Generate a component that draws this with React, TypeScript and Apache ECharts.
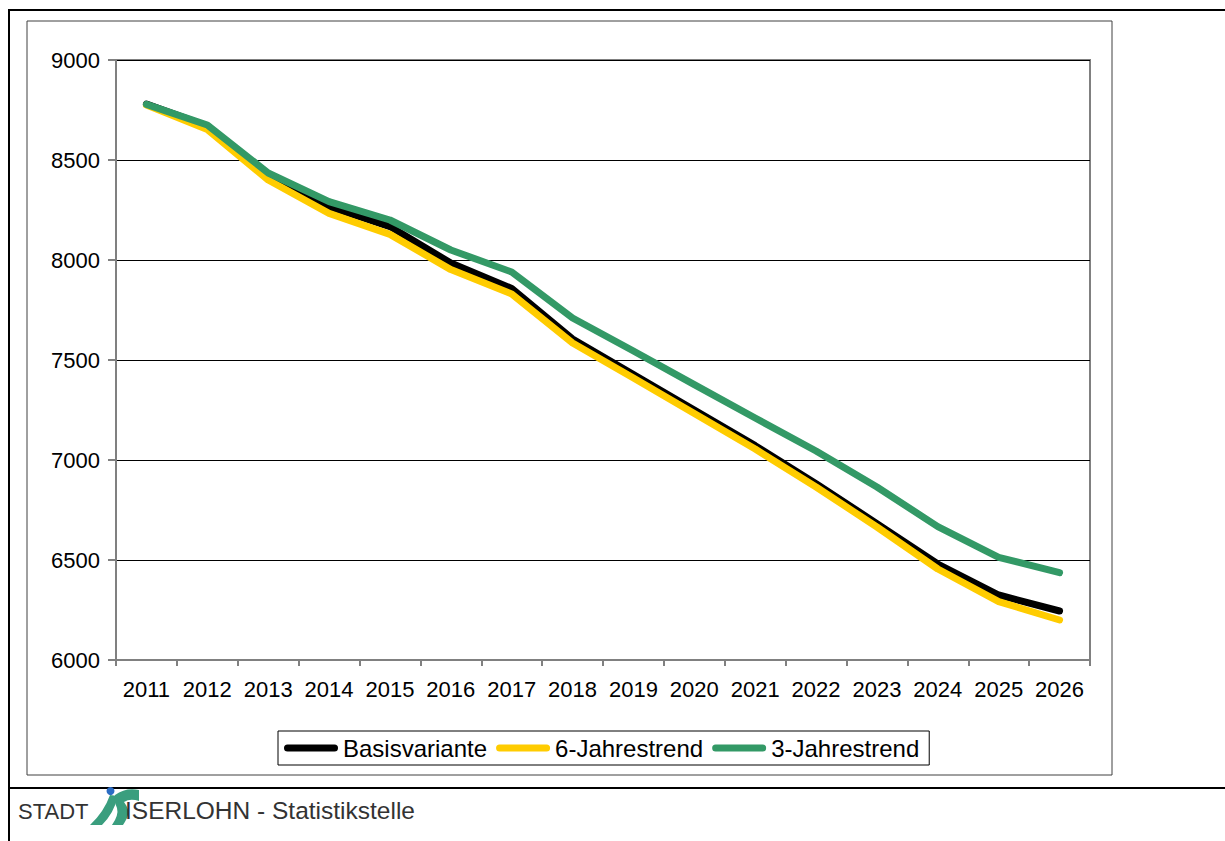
import React, { useEffect, useRef } from "react";
import * as echarts from "echarts";

// Einwohnerprognose 2011–2026, drei Varianten
const years = [
  "2011", "2012", "2013", "2014", "2015", "2016", "2017", "2018",
  "2019", "2020", "2021", "2022", "2023", "2024", "2025", "2026",
];
const basisvariante = [
  8780, 8670, 8425, 8267, 8167, 7985, 7858, 7605,
  7427, 7250, 7072, 6882, 6682, 6480, 6325, 6245,
];
const sechsJahrestrend = [
  8775, 8652, 8400, 8233, 8128, 7952, 7830, 7585,
  7410, 7232, 7055, 6865, 6665, 6455, 6292, 6200,
];
const dreiJahrestrend = [
  8778, 8675, 8435, 8292, 8200, 8050, 7940, 7710,
  7545, 7377, 7210, 7045, 6865, 6667, 6513, 6437,
];
const yTicks = { min: 6000, max: 9000, interval: 500 };
const seriesNames = ["Basisvariante", "6-Jahrestrend", "3-Jahrestrend"];
const seriesColors = ["#000000", "#FFCC00", "#339966"];

const FONT = "'Liberation Sans', Arial, Helvetica, sans-serif";

// Stadium-shaped legend marker
const legendIcon =
  "path://M3.5,0 L50.5,0 A3.5,3.5 0 0 1 50.5,7 L3.5,7 A3.5,3.5 0 0 1 3.5,0 Z";

// Logo strokes of the city emblem (page coordinates)
echarts.graphic.registerShape(
  "logoLeaf",
  echarts.graphic.extendPath(
    "M110,795 L118,796 Q114,813 102,825 L90,825 Q104,812 110,795 Z",
    {}
  )
);
echarts.graphic.registerShape(
  "logoS",
  echarts.graphic.extendPath(
    "M115,795 Q126,787 139,790 L139,801 Q130,798 124,802 Q131,811 127,818 Q125,822 123,825 L112,825 Q119,815 117,808 Q114,801 115,795 Z",
    {}
  )
);

export default function App() {
  const ref = useRef<HTMLDivElement>(null);

  useEffect(() => {
    if (!ref.current) return;
    const chart = echarts.init(ref.current, undefined, { renderer: "svg" });
    const seriesData = [basisvariante, sechsJahrestrend, dreiJahrestrend];

    chart.setOption({
      animation: false,
      backgroundColor: "#ffffff",
      textStyle: { fontFamily: FONT },
      grid: {
        left: 116,
        top: 60,
        width: 974,
        height: 600,
        show: true,
        borderColor: "#808080",
        borderWidth: 2,
        backgroundColor: "#ffffff",
      },
      legend: {
        left: 278,
        top: 731,
        orient: "horizontal",
        borderColor: "#000000",
        borderWidth: 1,
        padding: [5, 10, 5, 6],
        itemGap: 9,
        itemWidth: 54,
        itemHeight: 7,
        textStyle: { fontSize: 24, color: "#000000", fontFamily: FONT },
        data: seriesNames.map((name) => ({ name, icon: legendIcon })),
      },
      xAxis: {
        type: "category",
        data: years,
        boundaryGap: true,
        axisLine: { lineStyle: { color: "#808080", width: 2 } },
        axisTick: {
          show: true,
          length: 6,
          interval: 0,
          alignWithLabel: false,
          lineStyle: { color: "#808080", width: 2 },
        },
        axisLabel: {
          interval: 0,
          fontSize: 22,
          color: "#000000",
          margin: 18,
          fontFamily: FONT,
        },
        splitLine: { show: false },
      },
      yAxis: {
        type: "value",
        min: yTicks.min,
        max: yTicks.max,
        interval: yTicks.interval,
        axisLine: { show: true, lineStyle: { color: "#808080", width: 2 } },
        axisTick: {
          show: true,
          length: 8,
          lineStyle: { color: "#808080", width: 2 },
        },
        axisLabel: {
          fontSize: 22,
          color: "#000000",
          margin: 16,
          fontFamily: FONT,
          formatter: (v: number) => String(v),
        },
        splitLine: { show: true, lineStyle: { color: "#000000", width: 1 } },
      },
      series: seriesNames.map((name, i) => ({
        name,
        type: "line",
        data: seriesData[i],
        symbol: "none",
        color: seriesColors[i],
        lineStyle: {
          color: seriesColors[i],
          width: 7,
          cap: "round",
          join: "round",
        },
        z: 2 + i,
      })),
      graphic: [
        // outer page frame
        {
          type: "line",
          shape: { x1: 9, y1: 10, x2: 1225, y2: 10 },
          style: { stroke: "#000000", lineWidth: 2 },
        },
        {
          type: "line",
          shape: { x1: 9, y1: 9, x2: 9, y2: 841 },
          style: { stroke: "#000000", lineWidth: 2 },
        },
        {
          type: "line",
          shape: { x1: 9, y1: 788, x2: 1225, y2: 788 },
          style: { stroke: "#000000", lineWidth: 2 },
        },
        // chart area frame
        {
          type: "rect",
          shape: { x: 27, y: 21, width: 1085, height: 754 },
          style: { fill: "none", stroke: "#404040", lineWidth: 1 },
          z: -1,
        },
        // footer: STADT [logo] ISERLOHN - Statistikstelle
        {
          type: "text",
          x: 18,
          y: 811,
          style: {
            text: "STADT",
            fill: "#333333",
            font: `22px ${FONT}`,
            verticalAlign: "middle",
          },
        },
        {
          type: "logoLeaf",
          x: 0,
          y: 0,
          style: { fill: "#3a9e7e" },
        },
        {
          type: "logoS",
          x: 0,
          y: 0,
          style: { fill: "#3a9e7e" },
        },
        {
          type: "circle",
          shape: { cx: 110.5, cy: 791, r: 4 },
          style: { fill: "#2b6cc4" },
        },
        {
          type: "text",
          x: 125,
          y: 810,
          style: {
            text: "ISERLOHN - Statistikstelle",
            fill: "#333333",
            font: `24.5px ${FONT}`,
            verticalAlign: "middle",
          },
        },
      ],
    });

    return () => chart.dispose();
  }, []);

  return (
    <div
      ref={ref}
      style={{ position: "fixed", left: 0, top: 0, width: 1225, height: 841 }}
    />
  );
}
